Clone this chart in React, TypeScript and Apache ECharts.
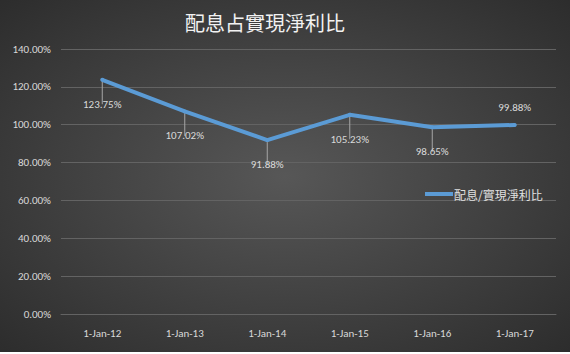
import React, { useEffect, useRef } from "react";
import * as echarts from "echarts";

const categories = ["1-Jan-12", "1-Jan-13", "1-Jan-14", "1-Jan-15", "1-Jan-16", "1-Jan-17"];
const ratioValues = [123.75, 107.02, 91.88, 105.23, 98.65, 99.88];
const labelAbove = [false, false, false, false, false, true];
const seriesName = "配息/實現淨利比";
const titleText = "配息占實現淨利比";

export default function App() {
  const ref = useRef<HTMLDivElement>(null);
  useEffect(() => {
    if (!ref.current) return;
    const chart = echarts.init(ref.current, null, { renderer: "svg" });
    const font = "Calibri, Carlito, 'Liberation Sans', 'Noto Sans CJK TC', sans-serif";
    chart.setOption({
      animation: false,
      backgroundColor: {
        type: "radial",
        x: 0.5,
        y: 0.5,
        r: 0.75,
        colorStops: [
          { offset: 0, color: "#575757" },
          { offset: 1, color: "#2a2a2a" },
        ],
      },
      title: {
        text: titleText,
        left: 260,
        textAlign: "center",
        top: 7,
        textStyle: {
          color: "#f2f2f2",
          fontSize: 20,
          fontWeight: "normal",
          fontFamily: "'Noto Sans CJK TC', serif",
        },
      },
      legend: {
        left: 420,
        top: 183,
        itemWidth: 28,
        itemHeight: 4,
        itemGap: 0,
        icon: "rect",
        textStyle: { color: "#e0e0e0", fontSize: 12, fontFamily: "'Noto Sans CJK TC', sans-serif", padding: [0, 0, 0, -4] },
        data: [seriesName],
      },
      grid: { left: 61, right: 14, top: 49, bottom: 38, containLabel: false },
      xAxis: {
        type: "category",
        data: categories,
        boundaryGap: true,
        axisLine: { show: true, lineStyle: { color: "#636363" } },
        axisTick: { show: false },
        axisLabel: { color: "#d9d9d9", fontSize: 11, fontFamily: font, margin: 14 },
        splitLine: { show: false },
      },
      yAxis: {
        type: "value",
        min: 0,
        max: 140,
        interval: 20,
        axisLine: { show: false },
        axisTick: { show: false },
        axisLabel: {
          color: "#d9d9d9",
          fontSize: 11,
          fontFamily: font,
          margin: 10,
          formatter: (v: number) => v.toFixed(2) + "%",
        },
        splitLine: { lineStyle: { color: "#636363", width: 1 } },
      },
      series: [
        {
          name: seriesName,
          type: "line",
          data: ratioValues.map((v, i) => ({
            value: v,
            label: {
              position: labelAbove[i] ? "top" : "bottom",
              distance: labelAbove[i] ? 10 : 17,
            },
            labelLine: { show: !labelAbove[i] },
          })),
          symbol: "circle",
          symbolSize: 4,
          lineStyle: { color: "#5b9bd5", width: 4 },
          itemStyle: { color: "#5b9bd5" },
          label: {
            show: true,
            color: "#d9d9d9",
            fontSize: 11,
            fontFamily: font,
            formatter: (p: any) => p.value.toFixed(2) + "%",
          },
          labelLine: { show: true, lineStyle: { color: "#a6a6a6", width: 1 } },
        },
      ],
    });
    return () => chart.dispose();
  }, []);
  return (
    <div style={{ position: "absolute", left: 0, top: 0, width: 570, height: 354, background: "#fff" }}>
      <div ref={ref} style={{ width: 570, height: 352 }} />
    </div>
  );
}
